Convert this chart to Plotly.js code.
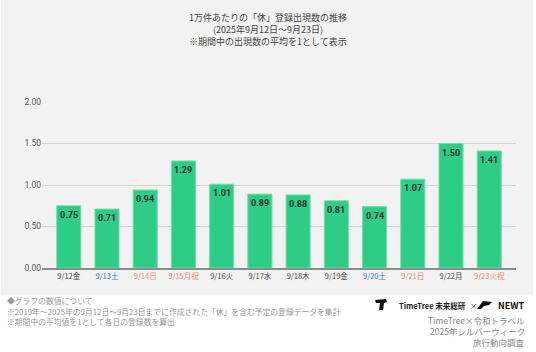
<!DOCTYPE html>
<html><head><meta charset="utf-8">
<script src="https://cdn.plot.ly/plotly-3.0.1.min.js"></script>
<style>html,body{margin:0;padding:0;background:#fff}#c{width:536px;height:352px}</style>
</head><body><div id="c"></div>
<script>
const categories = ["9/12金","9/13土","9/14日","9/15月祝","9/16火","9/17水","9/18木","9/19金","9/20土","9/21日","9/22月","9/23火祝"];
const values = [0.75,0.71,0.94,1.29,1.01,0.89,0.88,0.81,0.74,1.07,1.50,1.41];
const dayTypes = ["w","sat","hol","hol","w","w","w","w","sat","hol","w","hol"];
const yTickVals = [0,0.5,1,1.5,2];
const yTickText = ["0.00","0.50","1.00","1.50","2.00"];

const typeColor = {w:"#444444", sat:"#2f7dc4", hol:"#f08585"};
const xs = categories.map((c,i)=>i);
const tickText = categories.map((c,i)=>'<span style="color:'+typeColor[dayTypes[i]]+'">'+c+'</span>');

const FONT = '"Noto Sans CJK JP", "Noto Sans", sans-serif';

const trace = {
  type:'bar', x: xs, y: values, width: 0.63,
  marker:{color:'#2ecc87', line:{color:'#6fe0ad', width:1}},
  hoverinfo:'none'
};

const annotations = values.map((v,i)=>({
  x:i, y:v, xref:'x', yref:'y', text:'<b>'+v.toFixed(2)+'</b>', showarrow:false,
  yanchor:'top', yshift:-2, font:{size:9, color:'#333', family:'Roboto, "Liberation Sans", sans-serif'}
}));

const W=474, H=166, L=42, T=102;
function px(x){return (x-L)/W;}
function py(y){return (T+H-y)/H;}
function ptext(x,y,text,size,color,anchor,extra){
  return Object.assign({xref:'paper', yref:'paper', x:px(x), y:py(y), text:text, showarrow:false,
    xanchor:anchor, yanchor:'middle', font:{size:size, color:color, family:FONT}}, extra||{});
}

annotations.push(ptext(268,17,'1万件あたりの「休」登録出現数の推移',9,'#444','center'));
annotations.push(ptext(268,29.5,'(2025年9月12日～9月23日)',9,'#444','center'));
annotations.push(ptext(268,42,'※期間中の出現数の平均を1として表示',9,'#444','center'));

annotations.push(ptext(5,300.5,'◆グラフの数値について',7.8,'#999','left'));
annotations.push(ptext(5,311,'※2019年～2025年の9月12日～9月23日までに作成された「休」を含む予定の登録データを集計',7.8,'#999','left'));
annotations.push(ptext(5,321.5,'※期間中の平均値を1として各日の登録数を算出',7.8,'#999','left'));

annotations.push(ptext(468,305,'<b>TimeTree 未来総研</b>',7.5,'#222','right'));
annotations.push(ptext(474,305,'×',7.5,'#222','center'));
annotations.push(ptext(527,305,'<b>NEWT</b>',9,'#111','right'));
annotations.push(ptext(527,320,'TimeTree×令和トラベル',8.5,'#888','right'));
annotations.push(ptext(527,331,'2025年シルバーウィーク',8.5,'#888','right'));
annotations.push(ptext(527,342,'旅行動向調査',8.5,'#888','right'));

function path(pts){return 'M'+pts.map(p=>px(p[0])+','+py(p[1])).join(' L')+' Z';}

const shapes = [
  {type:'rect', xref:'paper', yref:'paper', x0:px(-5), x1:px(541), y0:py(360), y1:py(295.5), fillcolor:'#ffffff', line:{width:0}, layer:'below'},
  {type:'rect', xref:'paper', yref:'paper', x0:px(533.5), x1:px(541), y0:py(295.5), y1:py(-5), fillcolor:'#ffffff', line:{width:0}, layer:'below'},
  {type:'rect', xref:'paper', yref:'paper', x0:px(-5), x1:px(1), y0:py(295.5), y1:py(-5), fillcolor:'#ffffff', line:{width:0}, layer:'below'},
  {type:'path', xref:'paper', yref:'paper', path:path([[375,300],[386,299],[387,302],[384,303],[383,310],[379,310],[380,303],[376,303]]), fillcolor:'#111', line:{width:0}},
  {type:'path', xref:'paper', yref:'paper', path:path([[477,309],[483,301],[492,302],[489,305],[484,306],[481,309]]), fillcolor:'#111', line:{width:0}}
];

const layout = {
  width:536, height:352,
  margin:{l:L, r:536-L-W, t:T, b:352-T-H, pad:0},
  paper_bgcolor:'#f2f2f2', plot_bgcolor:'rgba(0,0,0,0)',
  showlegend:false,
  font:{family:FONT, color:'#444'},
  xaxis:{range:[-0.7,11.7], tickvals:xs, ticktext:tickText, showgrid:false, zeroline:false,
    showline:true, linecolor:'#8a8a8a', linewidth:1.5, ticks:'', tickfont:{size:7.5, family:FONT}, fixedrange:true},
  yaxis:{range:[0,2.0], tickvals:yTickVals, ticktext:yTickText, showgrid:true, gridcolor:'#d4d4d4', gridwidth:1,
    zeroline:false, showline:false, ticks:'', ticklen:0, tickfont:{size:8.5, color:'#555', family:'Roboto, "Liberation Sans", sans-serif'}, fixedrange:true},
  bargap:0.37,
  annotations: annotations,
  shapes: shapes
};

Plotly.newPlot('c',[trace],layout,{staticPlot:true});
</script></body></html>
